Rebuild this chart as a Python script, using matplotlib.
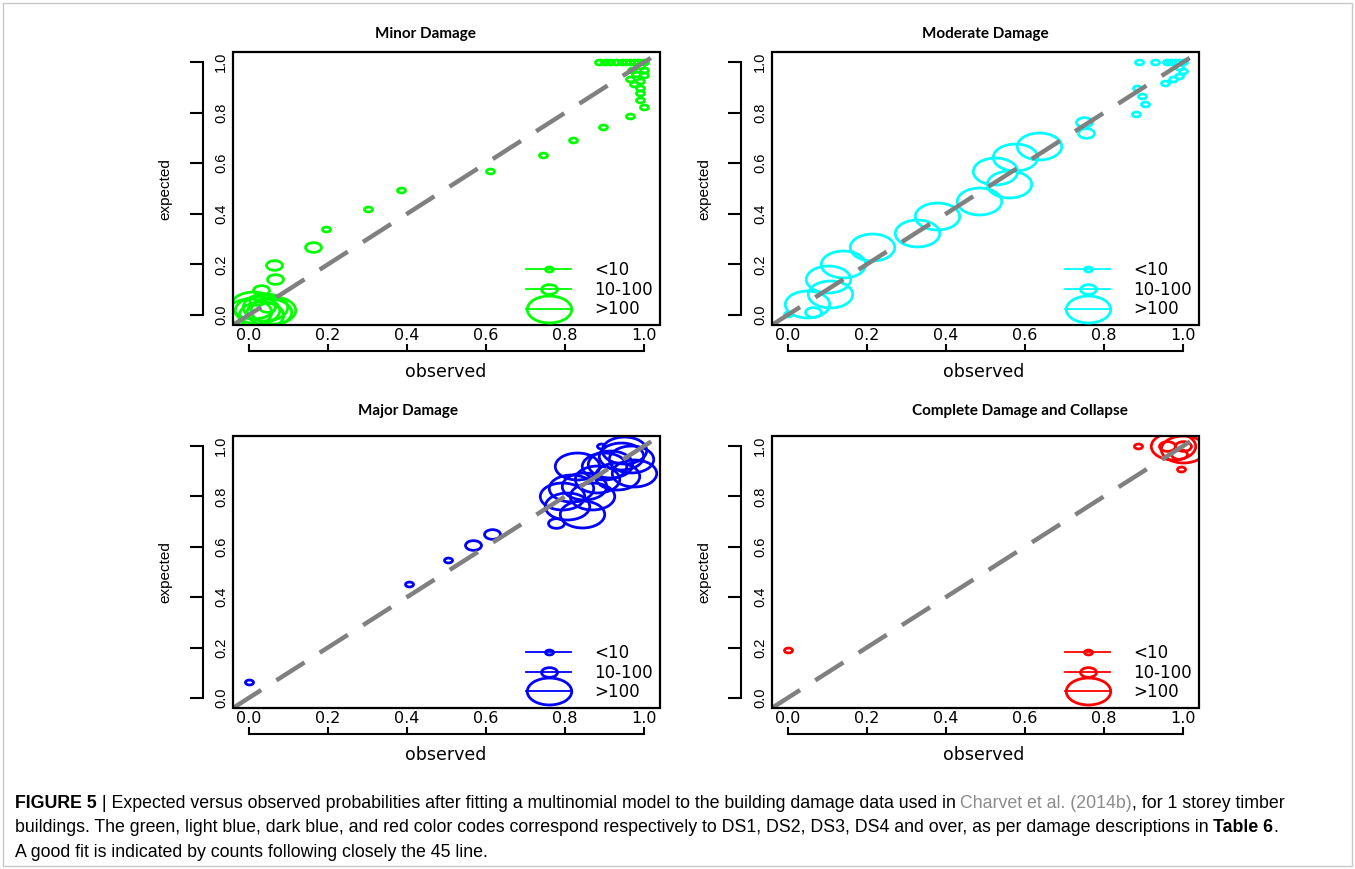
import numpy as np
import matplotlib.pyplot as plt
from matplotlib.path import Path
from matplotlib.transforms import Affine2D
from matplotlib.lines import Line2D
from matplotlib.patches import Rectangle

plt.rcParams['lines.scale_dashes'] = False

# size class of each point: 0 -> <10, 1 -> 10-100, 2 -> >100
minor_obs = [0.384, 0.302, 0.194, 0.609, 0.745, 0.820, 0.896, 0.965, 1.0, 0.99, 0.99, 0.99,
             0.975, 0.99, 1.0, 0.965, 0.98, 0.97, 1.0, 0.99,
             0.885, 0.90, 0.915, 0.93, 0.945, 0.955, 0.965, 0.975, 0.985, 1.0,
             0.162, 0.063, 0.065, 0.03, 0.02, 0.045,
             0.0, 0.02, 0.03, 0.04, 0.05, 0.01, 0.06]
minor_exp = [0.495, 0.419, 0.340, 0.568, 0.634, 0.692, 0.742, 0.786, 0.822, 0.852, 0.877, 0.897,
             0.914, 0.927, 0.95, 0.935, 0.955, 0.97, 0.97, 0.985,
             1.0, 1.0, 1.0, 1.0, 1.0, 1.0, 1.0, 1.0, 1.0, 1.0,
             0.267, 0.198, 0.144, 0.099, 0.06, 0.03,
             0.01, 0.02, 0.0, 0.03, 0.01, 0.04, 0.02]
minor_cls = [0] * 30 + [1] * 6 + [2] * 7

moderate_obs = [0.0, 0.065, 0.048, 0.103, 0.107, 0.141, 0.213, 0.327, 0.377, 0.483, 0.559,
                0.525, 0.576, 0.635, 0.75, 0.755,
                0.882, 0.884, 0.896, 0.905, 0.89, 0.93, 0.96, 0.97, 0.98, 0.99, 1.0,
                0.955, 0.975, 0.99, 1.0, 0.99]
moderate_exp = [0.003, 0.012, 0.042, 0.141, 0.082, 0.201, 0.267, 0.326, 0.392, 0.452, 0.518,
                0.571, 0.624, 0.670, 0.762, 0.719,
                0.797, 0.897, 0.868, 0.835, 1.0, 1.0, 1.0, 1.0, 1.0, 1.0, 1.0,
                0.918, 0.933, 0.947, 0.965, 0.98]
moderate_cls = [0, 1] + [2] * 12 + [1] * 2 + [0] * 16

major_obs = [0.0, 0.404, 0.503, 0.89,
             0.566, 0.615, 0.776,
             0.814, 0.806, 0.844, 0.793, 0.882, 0.899, 0.941, 0.966, 0.975, 0.932,
             0.869, 0.848, 0.831, 0.915, 0.95]
major_exp = [0.062, 0.452, 0.548, 1.0,
             0.606, 0.650, 0.693,
             0.835, 0.762, 0.729, 0.800, 0.868, 0.921, 0.960, 0.947, 0.894, 0.881,
             0.802, 0.842, 0.921, 0.93, 0.985]
major_cls = [0, 0, 0, 0, 1, 1, 1] + [2] * 15

complete_obs = [0.0, 0.886, 0.996, 0.96, 0.99, 1.0, 0.975, 1.0]
complete_exp = [0.192, 1.0, 0.908, 1.0, 0.97, 1.0, 1.0, 0.99]
complete_cls = [0, 0, 0, 1, 1, 1, 2, 2]

titles = ['Minor Damage', 'Moderate Damage', 'Major Damage', 'Complete Damage and Collapse']
colors = ['#00ff00', '#00ffff', '#0000ff', '#ff0000']
size_labels = ['<10', '10-100', '>100']
ticks = [0.0, 0.2, 0.4, 0.6, 0.8, 1.0]

panels = [(minor_obs, minor_exp, minor_cls),
          (moderate_obs, moderate_exp, moderate_cls),
          (major_obs, major_exp, major_cls),
          (complete_obs, complete_exp, complete_cls)]

# the original image is stretched sideways, so circles come out as ellipses
ell = Path.unit_circle().transformed(Affine2D().scale(1.65, 1.0))
msizes = [5.8, 11.5, 32]

fig = plt.figure(figsize=(13.55, 8.69), dpi=100)
boxes = [[0.172, 0.626, 0.315, 0.314], [0.5697, 0.626, 0.315, 0.314],
         [0.172, 0.1853, 0.315, 0.313], [0.5697, 0.1853, 0.315, 0.313]]
title_pos = [(0.314, 0.961), (0.727, 0.961), (0.301, 0.527), (0.753, 0.527)]

for i, (obs, exp, cls) in enumerate(panels):
    ax = fig.add_axes(boxes[i])
    obs = np.array(obs)
    exp = np.array(exp)
    cls = np.array(cls)
    for k in range(3):
        m = cls == k
        ax.plot(obs[m], exp[m], ls='none', marker=ell, ms=msizes[k], mfc='none',
                mec=colors[i], mew=2.0, zorder=2)
    ax.axline((0, 0), (1, 1), color='#808080', lw=3.2, dashes=(24, 13), zorder=3)
    ax.set_xlim(-0.04, 1.04)
    ax.set_ylim(-0.04, 1.04)

    ax.spines['top'].set_visible(False)
    ax.spines['right'].set_visible(False)
    ax.spines['left'].set_position(('outward', 22))
    ax.spines['bottom'].set_position(('outward', 19))
    ax.spines['left'].set_bounds(0, 1)
    ax.spines['bottom'].set_bounds(0, 1)
    ax.spines['left'].set_linewidth(1.5)
    ax.spines['bottom'].set_linewidth(1.5)
    ax.add_patch(Rectangle((0, 0), 1, 1, transform=ax.transAxes, fill=False,
                           lw=1.6, ec='black', clip_on=False, zorder=5))

    ax.set_xticks(ticks)
    ax.set_xticklabels(['%.1f' % t for t in ticks], family='DejaVu Sans', fontsize=11.5)
    ax.set_yticks(ticks)
    ax.set_yticklabels(['%.1f' % t for t in ticks], family='Liberation Sans', fontsize=10.5,
                       rotation=90, va='center')
    ax.tick_params(axis='y', direction='out', length=9.4, width=1.5, pad=-28)
    ax.tick_params(axis='x', direction='in', length=5, width=1.5, pad=-17)

    ax.set_xlabel('observed', family='DejaVu Sans', fontsize=12.5)
    ax.set_ylabel('expected', family='Liberation Sans', fontsize=11)
    ax.xaxis.set_label_coords(0.497, -0.138)
    ax.yaxis.set_label_coords(-0.143, 0.5)

    handles = [Line2D([], [], color=colors[i], lw=1.3, marker=ell, ms=msizes[k],
                      mfc='none', mec=colors[i], mew=2.0) for k in range(3)]
    ax.legend(handles, size_labels, loc='lower right', frameon=False,
              prop={'family': 'DejaVu Sans', 'size': 12},
              handlelength=2.7, handletextpad=1.4, labelspacing=0.1,
              borderaxespad=0.0, bbox_to_anchor=(1.0, 0.0))

    fig.text(title_pos[i][0], title_pos[i][1], titles[i], ha='center', va='center',
             family='Lato', weight='bold', fontsize=11)

# caption
cap = fig.add_axes([0, 0, 1, 1], zorder=-1)
cap.axis('off')
cap.set_xlim(0, 1)
cap.set_ylim(0, 1)
cap.add_patch(Rectangle((0.002, 0.003), 0.996, 0.994, fill=False, ec='#c8c8c8', lw=1.0))
cf = {'family': 'Liberation Sans', 'fontsize': 12.8}
t = cap.text(0.011, 0.070, 'FIGURE 5', weight='bold', **cf)
t = cap.annotate(' | Expected versus observed probabilities after fitting a multinomial model to the building damage data used in ',
                 xycoords=t, xy=(1, 0), va='bottom', **cf)
t = cap.annotate('Charvet et al. (2014b)', xycoords=t, xy=(1, 0), va='bottom', color='#8c8c8c', **cf)
cap.annotate(', for 1 storey timber', xycoords=t, xy=(1, 0), va='bottom', **cf)
t = cap.text(0.011, 0.0425, 'buildings. The green, light blue, dark blue, and red color codes correspond respectively to DS1, DS2, DS3, DS4 and over, as per damage descriptions in ', **cf)
t = cap.annotate('Table 6', xycoords=t, xy=(1, 0), va='bottom', weight='bold', **cf)
cap.annotate('.', xycoords=t, xy=(1, 0), va='bottom', **cf)
cap.text(0.011, 0.014, 'A good fit is indicated by counts following closely the 45 line.', **cf)

fig.savefig('out.png', dpi=100)
